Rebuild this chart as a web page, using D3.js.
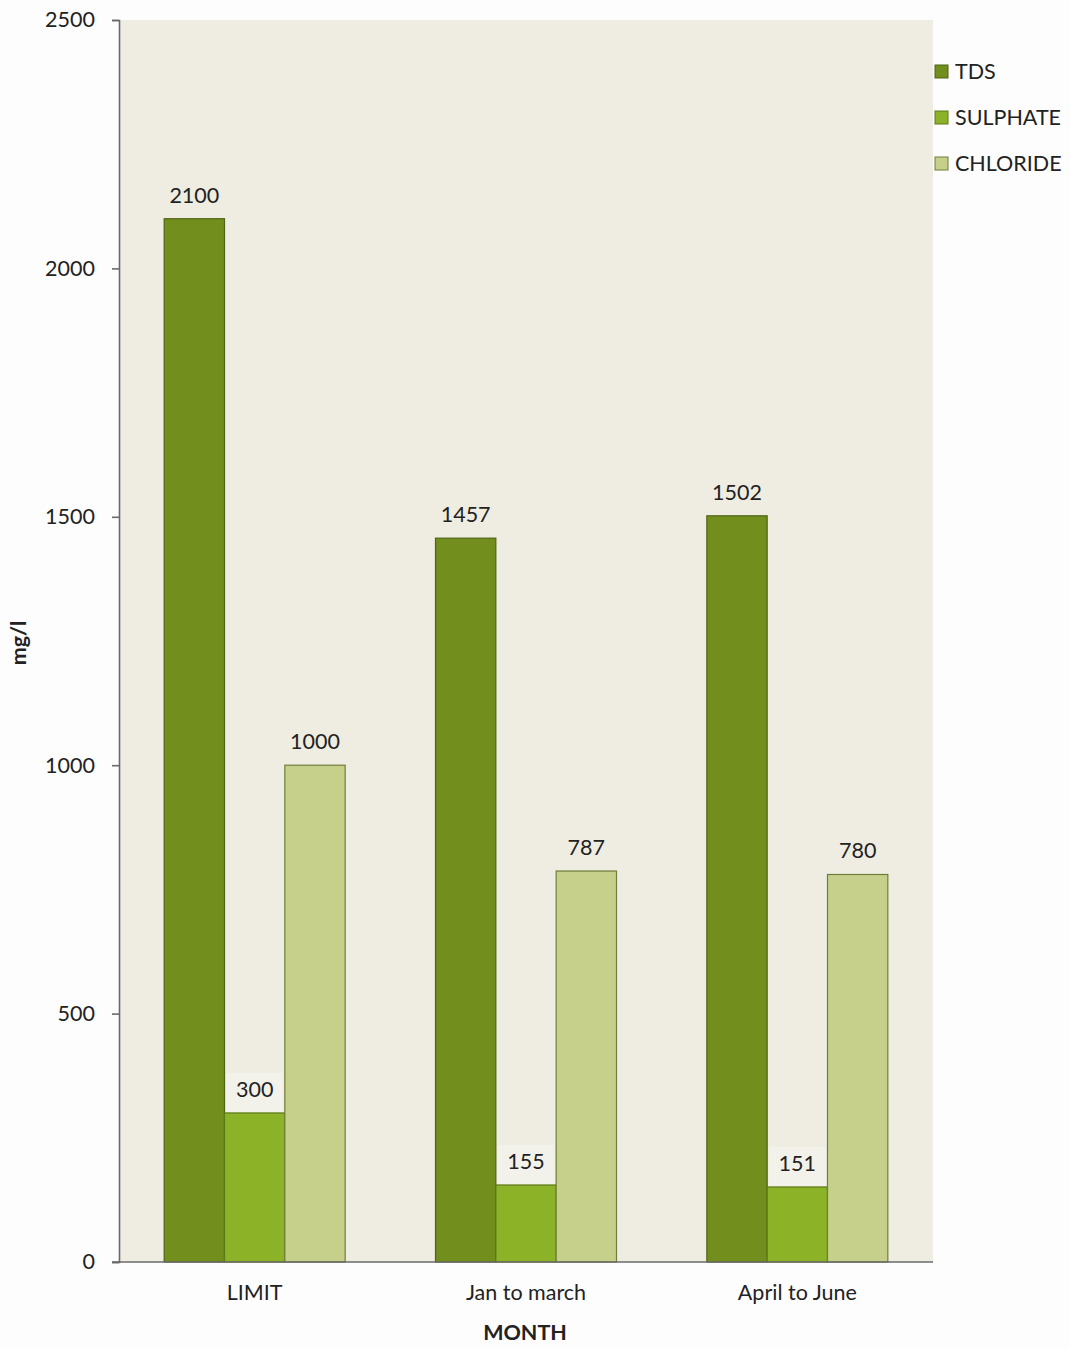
<!DOCTYPE html>
<html>
<head>
<meta charset="utf-8">
<script src="https://cdn.jsdelivr.net/npm/d3@7"></script>
<style>
  html, body { margin: 0; padding: 0; background: #fdfdfd; }
  svg { display: block; }
  text { font-family: Lato, "Open Sans", sans-serif; fill: #222; }
</style>
</head>
<body>
<svg id="chart" width="1070" height="1348"></svg>
<script>
// Water quality: monthly averages against the permissible limit (mg/l)
const categories = ["LIMIT", "Jan to march", "April to June"];
const seriesNames = ["TDS", "SULPHATE", "CHLORIDE"];
const tds = [2100, 1457, 1502];
const sulphate = [300, 155, 151];
const chloride = [1000, 787, 780];
const yTicks = [0, 500, 1000, 1500, 2000, 2500];

const seriesValues = [tds, sulphate, chloride];
const colors = ["#728e1d", "#8cb227", "#c6d08a"];
const strokes = ["#4f6414", "#5c7a16", "#6f7d3a"];
const FONT = "Lato, 'Open Sans', sans-serif";
const FS = 21.5;

const svg = d3.select("#chart");
const plot = { left: 119, right: 933, top: 20, bottom: 1262 };

const x0 = d3.scaleBand().domain(categories)
  .range([plot.left, plot.right]).paddingInner(0.333).paddingOuter(0.1665);
const x1 = d3.scaleBand().domain(seriesNames).range([0, x0.bandwidth()]);
const y = d3.scaleLinear().domain([0, 2500]).range([plot.bottom, plot.top]);

// plot area fill
svg.append("rect")
  .attr("x", plot.left).attr("y", plot.top)
  .attr("width", plot.right - plot.left).attr("height", plot.bottom - plot.top)
  .attr("fill", "#efede1");

// bars
const groups = svg.selectAll("g.cat").data(categories).join("g")
  .attr("class", "cat")
  .attr("transform", d => `translate(${x0(d)},0)`);

groups.each(function(cat, ci) {
  const g = d3.select(this);
  seriesNames.forEach((s, si) => {
    const v = seriesValues[si][ci];
    g.append("rect")
      .attr("x", x1(s)).attr("y", y(v))
      .attr("width", x1.bandwidth()).attr("height", y(0) - y(v))
      .attr("fill", colors[si])
      .attr("stroke", strokes[si]).attr("stroke-width", 1.2);
  });
  seriesNames.forEach((s, si) => {
    const v = seriesValues[si][ci];
    const cx = x1(s) + x1.bandwidth() / 2;
    if (si === 1) {
      g.append("rect")
        .attr("x", x1(s) + 2).attr("y", y(v) - 40)
        .attr("width", x1.bandwidth() - 4).attr("height", 39)
        .attr("fill", "#f3f2ea");
    }
    g.append("text")
      .attr("x", cx).attr("y", y(v) - 16)
      .attr("text-anchor", "middle")
      .attr("font-size", FS)
      .text(v);
  });
});

// y axis
const yAxis = d3.axisLeft(y).tickValues(yTicks).tickFormat(d3.format("d"))
  .tickSize(7).tickPadding(17);
const ya = svg.append("g").attr("transform", `translate(${plot.left},0)`).call(yAxis);
ya.select(".domain").attr("stroke", "#6a6a6a").attr("stroke-width", 1.6);
ya.selectAll(".tick line").attr("stroke", "#6a6a6a").attr("stroke-width", 1.6);
ya.selectAll(".tick text").attr("font-size", FS).attr("fill", "#222")
  .style("font-family", FONT);

// x axis
const xAxis = d3.axisBottom(x0).tickSize(0).tickPadding(23);
const xa = svg.append("g").attr("transform", `translate(0,${plot.bottom})`).call(xAxis);
xa.select(".domain").attr("stroke", "#6a6a6a").attr("stroke-width", 1.6)
  .attr("d", `M${plot.left - 7},0H${plot.right}`);
xa.selectAll(".tick text").attr("font-size", FS).attr("fill", "#222")
  .style("font-family", FONT);

// axis titles
svg.append("text")
  .attr("x", (plot.left + plot.right) / 2 - 1).attr("y", 1340)
  .attr("text-anchor", "middle").attr("font-size", FS).attr("font-weight", "bold")
  .text("MONTH");
svg.append("text")
  .attr("transform", `translate(26,643) rotate(-90)`)
  .attr("text-anchor", "middle").attr("font-size", FS).attr("font-weight", "bold")
  .text("mg/l");

// legend
const legend = svg.append("g").attr("transform", "translate(935,72)");
seriesNames.forEach((s, i) => {
  const row = legend.append("g").attr("transform", `translate(0,${i * 46})`);
  row.append("rect").attr("x", 0).attr("y", -7).attr("width", 13).attr("height", 13)
    .attr("fill", colors[i]).attr("stroke", strokes[i]).attr("stroke-width", 1);
  row.append("text").attr("x", 20).attr("y", 7).attr("font-size", FS).text(s);
});
</script>
</body>
</html>
